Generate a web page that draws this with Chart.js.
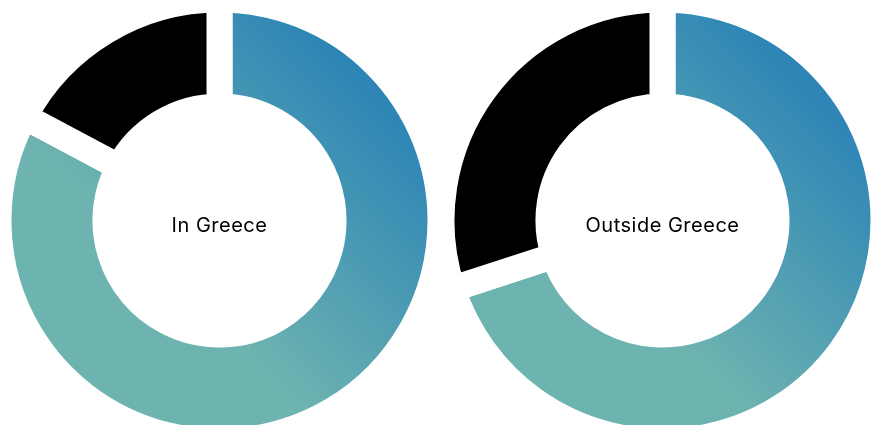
<!DOCTYPE html>
<html>
<head>
<meta charset="utf-8">
<script src="https://cdn.jsdelivr.net/npm/chart.js@4.4.1/dist/chart.umd.min.js"></script>
<style>
  html, body { margin: 0; padding: 0; overflow: hidden; background: #fff; }
  .donut { position: absolute; top: 0; }
  #inGreece { left: 0; }
  #outsideGreece { left: 437px; }
</style>
</head>
<body>
<canvas id="inGreece" class="donut" width="437" height="441"></canvas>
<canvas id="outsideGreece" class="donut" width="437" height="441"></canvas>
<script>
// shares, in percent (first slice = teal, second = black)
const segmentLabels = ["Main share", "Other share"];
const inGreeceValues = [82.8, 17.2];
const outsideGreeceValues = [70, 30];
const centerTitles = ["In Greece", "Outside Greece"];

const tealColor = "#6db3b0";
const blueColor = "#2c84b6";

// diagonal teal -> blue fill, running from the lower left to the upper right of the ring
function sliceColor(context) {
  if (context.dataIndex !== 0) return "#000000";
  const chart = context.chart;
  const area = chart.chartArea;
  if (!area) return tealColor;
  const cx = (area.left + area.right) / 2;
  const cy = (area.top + area.bottom) / 2;
  const d = 147;
  const grad = chart.ctx.createLinearGradient(cx - d, cy + d, cx + d, cy - d);
  grad.addColorStop(0, tealColor);
  grad.addColorStop(0.32, tealColor);
  grad.addColorStop(1, blueColor);
  return grad;
}

const centerText = {
  id: "centerText",
  afterDraw(chart, args, opts) {
    const { ctx, chartArea } = chart;
    const x = (chartArea.left + chartArea.right) / 2;
    const y = (chartArea.top + chartArea.bottom) / 2;
    ctx.save();
    ctx.font = "20px Inter";
    ctx.letterSpacing = "0.5px";
    ctx.fillStyle = "#000";
    ctx.textAlign = "center";
    ctx.textBaseline = "alphabetic";
    ctx.fillText(opts.text, x, y + 11);
    ctx.restore();
  },
};

function makeDonut(id, values, title, padLeft) {
  return new Chart(document.getElementById(id), {
    type: "doughnut",
    data: {
      labels: segmentLabels,
      datasets: [
        {
          data: values,
          backgroundColor: sliceColor,
          // wide white border cuts the straight gaps between slices
          borderColor: "#ffffff",
          borderWidth: 26,
          hoverBorderWidth: 26,
          radius: 221,
        },
      ],
    },
    options: {
      responsive: false,
      animation: false,
      events: [],
      cutout: "51.6%",
      layout: { padding: { left: padLeft } },
      plugins: {
        legend: { display: false },
        tooltip: { enabled: false },
        centerText: { text: title },
      },
    },
    plugins: [centerText],
  });
}

makeDonut("inGreece", inGreeceValues, centerTitles[0], 2);
makeDonut("outsideGreece", outsideGreeceValues, centerTitles[1], 14);
</script>
</body>
</html>
